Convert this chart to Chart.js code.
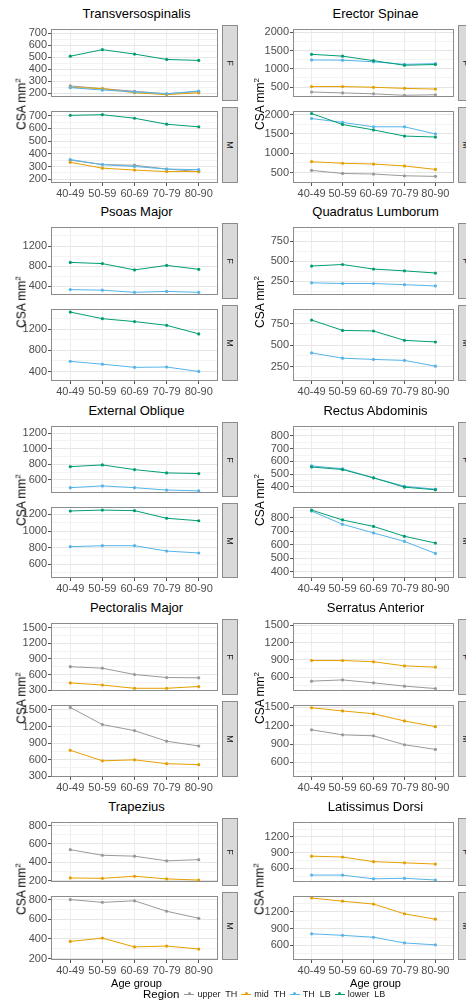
<!DOCTYPE html>
<html>
<head>
<meta charset="utf-8">
<script src="https://cdn.jsdelivr.net/npm/chart.js@4.4.1/dist/chart.umd.min.js"></script>
<style>
  body { margin: 0; width: 466px; height: 1007px; overflow: hidden; background: #fff; position: relative;
         font-family: "Liberation Sans", Arial, sans-serif; }
  .title { position: absolute; font-size: 13px; color: #000; transform: translate(-50%, -50%); white-space: nowrap; }
  .ylab { position: absolute; font-size: 12px; color: #000; transform: translate(-50%, -50%) rotate(-90deg); white-space: nowrap; }
  .ylab sup { font-size: 8px; }
  .xlab { position: absolute; font-size: 11px; color: #000; transform: translate(-50%, -50%); white-space: nowrap; }
  .strip { position: absolute; background: #d9d9d9; border: 1px solid #8c8c8c; box-sizing: border-box;
           display: flex; align-items: center; justify-content: center; }
  .strip span { transform: rotate(90deg); font-size: 9px; color: #1a1a1a; }
  #legend { position: absolute; left: 143px; top: 986px; height: 16px; display: flex; align-items: center; white-space: pre; }
  #legend .lt { font-size: 11.5px; color: #000; margin-right: 5px; }
  #legend .key { position: relative; display: inline-block; width: 10px; height: 1px; margin-right: 3px; }
  #legend .key i { position: absolute; left: 3.5px; top: -1.5px; width: 3px; height: 3px; border-radius: 50%; }
  #legend .lab { font-size: 9px; color: #1a1a1a; margin-right: 4px; }
</style>
</head>
<body>
<script>
// age groups and regions
const ageGroups = ['40-49', '50-59', '60-69', '70-79', '80-90'];
const regionNames = ['upper  TH', 'mid  TH', 'TH  LB', 'lower  LB'];
const regionColors = ['#999999', '#E69F00', '#56B4E9', '#009E73'];

// Transversospinalis
const transTicks = [200, 300, 400, 500, 600, 700];
const transF_upper = [262, 240, 218, 197, 215];
const transF_mid   = [250, 240, 205, 190, 205];
const transF_thlb  = [248, 228, 212, 197, 220];
const transF_lower = [510, 565, 528, 483, 475];
const transM_upper = [350, 315, 310, 280, 260];
const transM_mid   = [333, 287, 272, 260, 260];
const transM_thlb  = [355, 315, 300, 280, 275];
const transM_lower = [703, 708, 680, 633, 612];

// Erector Spinae
const erectTicks = [500, 1000, 1500, 2000];
const erectF_upper = [365, 340, 315, 275, 290];
const erectF_mid   = [515, 515, 495, 465, 445];
const erectF_thlb  = [1245, 1240, 1195, 1125, 1145];
const erectF_lower = [1400, 1350, 1225, 1100, 1120];
const erectM_upper = [555, 475, 460, 415, 400];
const erectM_mid   = [780, 740, 720, 670, 580];
const erectM_thlb  = [1900, 1800, 1685, 1685, 1500];
const erectM_lower = [2030, 1745, 1605, 1445, 1420];

// Psoas Major
const psoasTicks = [400, 800, 1200];
const psoasF_thlb  = [328, 316, 274, 292, 274];
const psoasF_lower = [872, 848, 722, 812, 734];
const psoasM_thlb  = [591, 537, 478, 484, 400];
const psoasM_lower = [1522, 1397, 1343, 1272, 1110];

// Quadratus Lumborum
const qlTicks = [250, 500, 750];
const qlF_thlb  = [231, 223, 223, 208, 193];
const qlF_lower = [440, 459, 402, 380, 353];
const qlM_thlb  = [409, 348, 333, 322, 254];
const qlM_lower = [795, 674, 667, 557, 538];

// External Oblique
const eoTicks = [600, 800, 1000, 1200];
const eoF_thlb  = [501, 524, 501, 471, 460];
const eoF_lower = [770, 792, 732, 690, 682];
const eoM_thlb  = [811, 823, 823, 758, 735];
const eoM_lower = [1242, 1253, 1246, 1154, 1124];

// Rectus Abdominis
const raTicks = [400, 500, 600, 700, 800];
const raF_thlb  = [565, 542, 471, 405, 382];
const raF_lower = [556, 536, 471, 398, 377];
const raM_thlb  = [848, 750, 686, 623, 534];
const raM_lower = [855, 782, 734, 661, 611];

// Pectoralis Major
const pectTicks = [300, 600, 900, 1200, 1500];
const pectF_upper = [750, 721, 600, 542, 537];
const pectF_mid   = [438, 398, 335, 335, 369];
const pectM_upper = [1546, 1235, 1125, 933, 846];
const pectM_mid   = [768, 577, 594, 525, 507];

// Serratus Anterior
const serrTicks = [600, 900, 1200, 1500];
const serrF_upper = [533, 554, 503, 446, 405];
const serrF_mid   = [890, 890, 869, 797, 776];
const serrM_upper = [1134, 1052, 1036, 890, 813];
const serrM_mid   = [1495, 1443, 1397, 1279, 1186];

// Trapezius
const trapTicks = [200, 400, 600, 800];
const trapF_upper = [538, 477, 467, 416, 429];
const trapF_mid   = [229, 225, 248, 219, 206];
const trapM_upper = [803, 775, 791, 684, 612];
const trapM_mid   = [375, 409, 319, 328, 297];

// Latissimus Dorsi
const latTicks = [600, 900, 1200];
const latF_mid  = [833, 817, 728, 706, 683];
const latF_thlb = [472, 472, 400, 411, 378];
const latM_mid  = [1449, 1392, 1341, 1166, 1070];
const latM_thlb = [809, 781, 747, 645, 611];

const muscles = [
  { name: 'Transversospinalis', ticks: transTicks, min: 170, max: 737,
    F: [transF_upper, transF_mid, transF_thlb, transF_lower], M: [transM_upper, transM_mid, transM_thlb, transM_lower] },
  { name: 'Erector Spinae', ticks: erectTicks, min: 228, max: 2095,
    F: [erectF_upper, erectF_mid, erectF_thlb, erectF_lower], M: [erectM_upper, erectM_mid, erectM_thlb, erectM_lower] },
  { name: 'Psoas Major', ticks: psoasTicks, min: 220, max: 1580,
    F: [null, null, psoasF_thlb, psoasF_lower], M: [null, null, psoasM_thlb, psoasM_lower] },
  { name: 'Quadratus Lumborum', ticks: qlTicks, min: 80, max: 925,
    F: [null, null, qlF_thlb, qlF_lower], M: [null, null, qlM_thlb, qlM_lower] },
  { name: 'External Oblique', ticks: eoTicks, min: 433, max: 1290,
    F: [null, null, eoF_thlb, eoF_lower], M: [null, null, eoM_thlb, eoM_lower] },
  { name: 'Rectus Abdominis', ticks: raTicks, min: 352, max: 878,
    F: [null, null, raF_thlb, raF_lower], M: [null, null, raM_thlb, raM_lower] },
  { name: 'Pectoralis Major', ticks: pectTicks, min: 283, max: 1590,
    F: [pectF_upper, pectF_mid, null, null], M: [pectM_upper, pectM_mid, null, null] },
  { name: 'Serratus Anterior', ticks: serrTicks, min: 362, max: 1540,
    F: [serrF_upper, serrF_mid, null, null], M: [serrM_upper, serrM_mid, null, null] },
  { name: 'Trapezius', ticks: trapTicks, min: 185, max: 840,
    F: [trapF_upper, trapF_mid, null, null], M: [trapM_upper, trapM_mid, null, null] },
  { name: 'Latissimus Dorsi', ticks: latTicks, min: 340, max: 1485,
    F: [null, latF_mid, latF_thlb, null], M: [null, latM_mid, latM_thlb, null] },
];

// page layout
const cols = [{ left: 51, right: 222, ylab: 21 }, { left: 293, right: 458, ylab: 259 }];
const rows = [{ top: 25, h: 76 }, { top: 223, h: 76 }, { top: 422, h: 75 }, { top: 619, h: 76 }, { top: 818, h: 68 }];
const panelGap = 6;
const yAxisW = 40;

Chart.defaults.font.family = '"Liberation Sans", Arial, sans-serif';

// ggplot-like panel border
const frame = {
  id: 'frame',
  afterDraw(chart) {
    const { ctx, chartArea: a } = chart;
    ctx.save();
    ctx.strokeStyle = '#8c8c8c';
    ctx.lineWidth = 1;
    ctx.strokeRect(Math.round(a.left) + 0.5, Math.round(a.top) + 0.5,
                   Math.round(a.right - a.left) - 1, Math.round(a.bottom - a.top) - 1);
    ctx.restore();
  }
};

function addDiv(cls, html, css) {
  const d = document.createElement('div');
  d.className = cls;
  d.innerHTML = html;
  d.style.cssText = css;
  document.body.appendChild(d);
  return d;
}

function addPanel(m, sex, col, top, h, showX) {
  const xH = showX ? 18 : 0;
  const w = col.right - col.left + yAxisW;
  const cv = document.createElement('canvas');
  cv.width = w;
  cv.height = h + xH;
  cv.style.cssText = `position:absolute;left:${col.left - yAxisW}px;top:${top}px;width:${w}px;height:${h + xH}px`;
  document.body.appendChild(cv);

  const step = m.ticks[1] - m.ticks[0];
  const minor = [];
  for (let v = m.ticks[0] - step / 2; v <= m.ticks[m.ticks.length - 1] + step / 2; v += step) {
    if (v > m.min && v < m.max) minor.push(v);
  }
  const allTicks = [...m.ticks, ...minor].sort((a, b) => a - b);
  const isMajor = v => m.ticks.includes(v);

  // lower LB first so it is drawn on top
  const datasets = [];
  for (let r = regionNames.length - 1; r >= 0; r--) {
    const vals = m[sex][r];
    if (!vals) continue;
    datasets.push({
      label: regionNames[r],
      data: vals.map((v, i) => ({ x: i, y: v })),
      borderColor: regionColors[r],
      backgroundColor: regionColors[r],
      borderWidth: 1,
      pointRadius: 1.6,
      pointBorderWidth: 0,
      tension: 0
    });
  }

  new Chart(cv, {
    type: 'line',
    data: { datasets },
    options: {
      responsive: false,
      animation: false,
      devicePixelRatio: 1,
      layout: { padding: 0 },
      plugins: { legend: { display: false }, tooltip: { enabled: false } },
      scales: {
        x: {
          type: 'linear', min: -0.6, max: 4.6,
          afterBuildTicks: s => { s.ticks = ageGroups.map((a, i) => ({ value: i })); },
          afterFit: s => { s.height = xH; s.paddingLeft = 0; s.paddingRight = 0; },
          ticks: { display: showX, callback: v => ageGroups[v], color: '#4d4d4d', font: { size: 11 },
                   padding: 1, maxRotation: 0, autoSkip: false },
          grid: { color: '#ebebeb', lineWidth: 1, drawTicks: showX, tickLength: 3, tickColor: '#555' },
          border: { display: false }
        },
        y: {
          type: 'linear', min: m.min, max: m.max,
          afterBuildTicks: s => { s.ticks = allTicks.map(v => ({ value: v })); },
          afterFit: s => { s.width = yAxisW; s.paddingTop = 0; s.paddingBottom = 0; },
          ticks: { callback: v => isMajor(v) ? String(v) : '', color: '#4d4d4d', font: { size: 11 },
                   padding: 1, autoSkip: false },
          grid: {
            color: c => isMajor(c.tick.value) ? '#e6e6e6' : '#f3f3f3',
            lineWidth: 1,
            tickLength: 3,
            tickColor: c => isMajor(c.tick.value) ? '#555' : 'rgba(0,0,0,0)'
          },
          border: { display: false }
        }
      }
    },
    plugins: [frame]
  });

  addDiv('strip', `<span>${sex}</span>`,
         `left:${col.right}px;top:${top}px;width:16px;height:${h}px`);
}

muscles.forEach((m, i) => {
  const col = cols[i % 2];
  const row = rows[Math.floor(i / 2)];
  const fTop = row.top;
  const mTop = row.top + row.h + panelGap;
  const cx = (col.left + col.right) / 2;

  addDiv('title', m.name, `left:${cx}px;top:${fTop - 12}px`);
  addPanel(m, 'F', col, fTop, row.h, false);
  addPanel(m, 'M', col, mTop, row.h, true);
  addDiv('ylab', 'CSA mm<sup>2</sup>', `left:${col.ylab}px;top:${(fTop + mTop + row.h) / 2}px`);

  if (Math.floor(i / 2) === rows.length - 1) {
    addDiv('xlab', 'Age group', `left:${cx}px;top:${mTop + row.h + 23}px`);
  }
});

// legend
const legend = addDiv('', '', '');
legend.id = 'legend';
let lh = '<span class="lt">Region</span>';
regionNames.forEach((n, r) => {
  lh += `<span class="key" style="background:${regionColors[r]}"><i style="background:${regionColors[r]}"></i></span>` +
        `<span class="lab">${n}</span>`;
});
legend.innerHTML = lh;
</script>
</body>
</html>
